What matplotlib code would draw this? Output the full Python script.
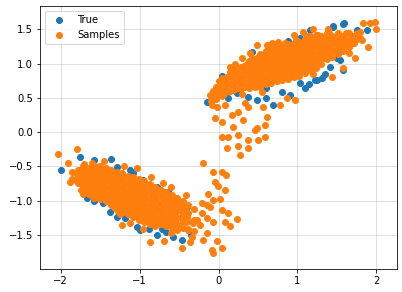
import matplotlib
matplotlib.use("Agg")
import matplotlib.pyplot as plt

# "True" points as (x, y)
true_lower = [
    (-2.0, -0.55), (-1.75, -0.36), (-1.58, -0.41), (-1.36, -0.39), (-1.28, -0.51),
    (-1.08, -0.6), (-0.96, -0.7), (-0.78, -0.8), (-0.64, -0.87), (-0.4, -1.09),
    (-0.45, -1.24), (-1.66, -0.96), (-1.46, -1.03), (-1.37, -1.17), (-1.18, -1.25),
    (-1.03, -1.38), (-0.99, -1.43), (-0.78, -1.5), (-0.58, -1.53), (-0.46, -1.57),
    (-0.35, -1.5), (-0.88, -1.42), (-0.66, -1.46), (-1.55, -0.6), (-1.8, -0.7),
    (-1.7, -0.55), (-1.5, -0.85), (-1.3, -0.9), (-1.1, -1.0), (-0.9, -1.1),
    (-0.7, -1.2), (-0.55, -1.3), (-1.2, -0.75), (-1.0, -0.85), (-0.8, -0.95),
    (-0.6, -1.05), (-1.4, -0.7), (-1.25, -1.05), (-1.05, -1.2), (-0.85, -1.28),
    (-1.58, -1.0), (-1.28, -1.24), (-0.72, -1.42), (-1.12, -0.55),
]
true_upper = [
    (-0.15, 0.44), (0.04, 0.82), (0.17, 0.7), (0.27, 0.79), (0.42, 1.17),
    (0.88, 1.33), (1.03, 1.38), (1.16, 1.49), (1.45, 1.55), (1.59, 1.59),
    (1.75, 1.49), (1.88, 1.49), (1.5, 1.08), (1.41, 0.95), (1.25, 0.76),
    (1.1, 0.64), (0.91, 0.54), (0.69, 0.39), (0.49, 0.47), (0.37, 0.51),
    (0.23, 0.57), (1.58, 1.57), (1.45, 1.53), (1.69, 1.31), (1.54, 1.05),
    (1.58, 0.9), (1.31, 0.79), (1.22, 0.76), (1.03, 0.71), (0.87, 1.3),
    (0.5, 0.8), (0.7, 0.95), (0.9, 1.05), (1.1, 1.15), (1.3, 1.25),
    (1.5, 1.3), (0.3, 0.7), (0.6, 0.65), (0.8, 0.8), (1.0, 0.9),
    (1.2, 1.0), (1.4, 1.15), (1.7, 1.4), (0.65, 1.15), (0.1, 0.6),
    (0.6, 0.5), (0.8, 0.58), (1.15, 0.7), (1.35, 0.85), (-0.05, 0.6),
    (0.08, 0.75), (0.12, 0.5),
]

# "Samples" points as (x, y)
samples_lower = [
    (-1.85, -0.58), (-1.85, -0.68),
    (-1.78, -0.55), (-1.78, -0.65), (-1.78, -0.75),
    (-1.71, -0.5), (-1.71, -0.6), (-1.71, -0.7), (-1.71, -0.8), (-1.71, -0.9),
    (-1.64, -0.52), (-1.64, -0.62), (-1.64, -0.72), (-1.64, -0.82), (-1.64, -0.9),
    (-1.57, -0.48), (-1.57, -0.58), (-1.57, -0.68), (-1.57, -0.78), (-1.57, -0.88), (-1.57, -0.96),
    (-1.5, -0.5), (-1.5, -0.6), (-1.5, -0.7), (-1.5, -0.8), (-1.5, -0.9), (-1.5, -0.98),
    (-1.43, -0.52), (-1.43, -0.62), (-1.43, -0.72), (-1.43, -0.82), (-1.43, -0.92), (-1.43, -1.0),
    (-1.36, -0.56), (-1.36, -0.66), (-1.36, -0.76), (-1.36, -0.86), (-1.36, -0.96), (-1.36, -1.06),
    (-1.29, -0.58), (-1.29, -0.68), (-1.29, -0.78), (-1.29, -0.88), (-1.29, -0.98), (-1.29, -1.08), (-1.29, -1.14),
    (-1.22, -0.6), (-1.22, -0.7), (-1.22, -0.8), (-1.22, -0.9), (-1.22, -1.0), (-1.22, -1.1), (-1.22, -1.17),
    (-1.15, -0.64), (-1.15, -0.74), (-1.15, -0.84), (-1.15, -0.94), (-1.15, -1.04), (-1.15, -1.14), (-1.15, -1.2),
    (-1.08, -0.66), (-1.08, -0.76), (-1.08, -0.86), (-1.08, -0.96), (-1.08, -1.06), (-1.08, -1.16), (-1.08, -1.24),
    (-1.01, -0.68), (-1.01, -0.78), (-1.01, -0.88), (-1.01, -0.98), (-1.01, -1.08), (-1.01, -1.18), (-1.01, -1.28),
    (-0.94, -0.72), (-0.94, -0.82), (-0.94, -0.92), (-0.94, -1.02), (-0.94, -1.12), (-0.94, -1.22), (-0.94, -1.32),
    (-0.87, -0.76), (-0.87, -0.86), (-0.87, -0.96), (-0.87, -1.06), (-0.87, -1.16), (-0.87, -1.26), (-0.87, -1.35),
    (-0.8, -0.8), (-0.8, -0.9), (-0.8, -1.0), (-0.8, -1.1), (-0.8, -1.2), (-0.8, -1.3), (-0.8, -1.37),
    (-0.73, -0.84), (-0.73, -0.94), (-0.73, -1.04), (-0.73, -1.14), (-0.73, -1.24), (-0.73, -1.34),
    (-0.66, -0.88), (-0.66, -0.98), (-0.66, -1.08), (-0.66, -1.18), (-0.66, -1.28), (-0.66, -1.37),
    (-0.59, -0.92), (-0.59, -1.02), (-0.59, -1.12), (-0.59, -1.22), (-0.59, -1.32), (-0.59, -1.4),
    (-0.52, -0.96), (-0.52, -1.06), (-0.52, -1.16), (-0.52, -1.26), (-0.52, -1.36), (-0.52, -1.43),
    (-0.45, -1.0), (-0.45, -1.1), (-0.45, -1.2), (-0.45, -1.3), (-0.45, -1.4),
    (-0.38, -1.06), (-0.38, -1.18), (-0.38, -1.3), (-0.38, -1.42),
    (-0.31, -1.12), (-0.31, -1.28), (-0.31, -1.45),
]
samples_lower_mid = [
    (-1.81, -0.6), (-1.81, -0.7),
    (-1.74, -0.55), (-1.74, -0.65), (-1.74, -0.75), (-1.74, -0.85),
    (-1.67, -0.55), (-1.67, -0.65), (-1.67, -0.75), (-1.67, -0.85),
    (-1.6, -0.53), (-1.6, -0.63), (-1.6, -0.73), (-1.6, -0.83), (-1.6, -0.93),
    (-1.53, -0.55), (-1.53, -0.65), (-1.53, -0.75), (-1.53, -0.85), (-1.53, -0.95),
    (-1.46, -0.55), (-1.46, -0.65), (-1.46, -0.75), (-1.46, -0.85), (-1.46, -0.95),
    (-1.39, -0.6), (-1.39, -0.7), (-1.39, -0.8), (-1.39, -0.9), (-1.39, -1.0),
    (-1.32, -0.62), (-1.32, -0.72), (-1.32, -0.82), (-1.32, -0.92), (-1.32, -1.02), (-1.32, -1.1),
    (-1.25, -0.64), (-1.25, -0.74), (-1.25, -0.84), (-1.25, -0.94), (-1.25, -1.04), (-1.25, -1.13),
    (-1.18, -0.66), (-1.18, -0.76), (-1.18, -0.86), (-1.18, -0.96), (-1.18, -1.06), (-1.18, -1.16),
    (-1.11, -0.7), (-1.11, -0.8), (-1.11, -0.9), (-1.11, -1.0), (-1.11, -1.1), (-1.11, -1.2),
    (-1.04, -0.72), (-1.04, -0.82), (-1.04, -0.92), (-1.04, -1.02), (-1.04, -1.12), (-1.04, -1.22),
    (-0.97, -0.74), (-0.97, -0.84), (-0.97, -0.94), (-0.97, -1.04), (-0.97, -1.14), (-0.97, -1.24),
    (-0.9, -0.78), (-0.9, -0.88), (-0.9, -0.98), (-0.9, -1.08), (-0.9, -1.18), (-0.9, -1.28),
    (-0.83, -0.82), (-0.83, -0.92), (-0.83, -1.02), (-0.83, -1.12), (-0.83, -1.22), (-0.83, -1.32),
    (-0.76, -0.84), (-0.76, -0.94), (-0.76, -1.04), (-0.76, -1.14), (-0.76, -1.24), (-0.76, -1.33),
    (-0.69, -0.88), (-0.69, -0.98), (-0.69, -1.08), (-0.69, -1.18), (-0.69, -1.28),
    (-0.62, -0.92), (-0.62, -1.02), (-0.62, -1.12), (-0.62, -1.22), (-0.62, -1.32),
    (-0.55, -0.96), (-0.55, -1.06), (-0.55, -1.16), (-0.55, -1.26), (-0.55, -1.36),
    (-0.48, -1.04), (-0.48, -1.14), (-0.48, -1.24), (-0.48, -1.34),
    (-0.41, -1.1), (-0.41, -1.2), (-0.41, -1.32),
]
samples_upper = [
    (-0.1, 0.45), (-0.1, 0.53),
    (-0.03, 0.48), (-0.03, 0.58), (-0.03, 0.66),
    (0.04, 0.52), (0.04, 0.62), (0.04, 0.72), (0.04, 0.79),
    (0.11, 0.6), (0.11, 0.7), (0.11, 0.8),
    (0.18, 0.62), (0.18, 0.72), (0.18, 0.82), (0.18, 0.9),
    (0.25, 0.64), (0.25, 0.74), (0.25, 0.84), (0.25, 0.94),
    (0.32, 0.66), (0.32, 0.76), (0.32, 0.86), (0.32, 0.96),
    (0.39, 0.64), (0.39, 0.74), (0.39, 0.84), (0.39, 0.94), (0.39, 1.04),
    (0.46, 0.66), (0.46, 0.76), (0.46, 0.86), (0.46, 0.96), (0.46, 1.06),
    (0.53, 0.66), (0.53, 0.76), (0.53, 0.86), (0.53, 0.96), (0.53, 1.06), (0.53, 1.14),
    (0.6, 0.7), (0.6, 0.8), (0.6, 0.9), (0.6, 1.0), (0.6, 1.1), (0.6, 1.18),
    (0.67, 0.72), (0.67, 0.82), (0.67, 0.92), (0.67, 1.02), (0.67, 1.12), (0.67, 1.22),
    (0.74, 0.74), (0.74, 0.84), (0.74, 0.94), (0.74, 1.04), (0.74, 1.14), (0.74, 1.24),
    (0.81, 0.76), (0.81, 0.86), (0.81, 0.96), (0.81, 1.06), (0.81, 1.16), (0.81, 1.26),
    (0.88, 0.78), (0.88, 0.88), (0.88, 0.98), (0.88, 1.08), (0.88, 1.18), (0.88, 1.28),
    (0.95, 0.8), (0.95, 0.9), (0.95, 1.0), (0.95, 1.1), (0.95, 1.2), (0.95, 1.3),
    (1.02, 0.82), (1.02, 0.92), (1.02, 1.02), (1.02, 1.12), (1.02, 1.22), (1.02, 1.32),
    (1.09, 0.86), (1.09, 0.96), (1.09, 1.06), (1.09, 1.16), (1.09, 1.26), (1.09, 1.36),
    (1.16, 0.9), (1.16, 1.0), (1.16, 1.1), (1.16, 1.2), (1.16, 1.3), (1.16, 1.4),
    (1.23, 0.94), (1.23, 1.04), (1.23, 1.14), (1.23, 1.24), (1.23, 1.34), (1.23, 1.42),
    (1.3, 1.0), (1.3, 1.1), (1.3, 1.2), (1.3, 1.3), (1.3, 1.4),
    (1.37, 1.06), (1.37, 1.16), (1.37, 1.26), (1.37, 1.36), (1.37, 1.45),
    (1.44, 1.1), (1.44, 1.2), (1.44, 1.3), (1.44, 1.4),
    (1.51, 1.14), (1.51, 1.24), (1.51, 1.34), (1.51, 1.44),
    (1.58, 1.18), (1.58, 1.28), (1.58, 1.38),
    (1.65, 1.24), (1.65, 1.34), (1.65, 1.44),
    (1.72, 1.3), (1.72, 1.4),
    (1.79, 1.38), (1.79, 1.46),
]
samples_upper_mid = [
    (-0.065, 0.5), (-0.065, 0.6),
    (0.005, 0.55), (0.005, 0.65), (0.005, 0.75),
    (0.075, 0.55), (0.075, 0.65), (0.075, 0.75),
    (0.145, 0.6), (0.145, 0.7), (0.145, 0.8), (0.145, 0.88),
    (0.215, 0.63), (0.215, 0.73), (0.215, 0.83), (0.215, 0.9),
    (0.285, 0.65), (0.285, 0.75), (0.285, 0.85), (0.285, 0.95),
    (0.355, 0.7), (0.355, 0.8), (0.355, 0.9), (0.355, 1.0),
    (0.425, 0.7), (0.425, 0.8), (0.425, 0.9), (0.425, 1.0), (0.425, 1.08),
    (0.495, 0.71), (0.495, 0.81), (0.495, 0.91), (0.495, 1.01), (0.495, 1.1),
    (0.565, 0.72), (0.565, 0.82), (0.565, 0.92), (0.565, 1.02), (0.565, 1.12),
    (0.635, 0.75), (0.635, 0.85), (0.635, 0.95), (0.635, 1.05), (0.635, 1.15),
    (0.705, 0.78), (0.705, 0.88), (0.705, 0.98), (0.705, 1.08), (0.705, 1.18),
    (0.775, 0.8), (0.775, 0.9), (0.775, 1.0), (0.775, 1.1), (0.775, 1.2),
    (0.845, 0.82), (0.845, 0.92), (0.845, 1.02), (0.845, 1.12), (0.845, 1.22), (0.845, 1.3),
    (0.915, 0.84), (0.915, 0.94), (0.915, 1.04), (0.915, 1.14), (0.915, 1.24),
    (0.985, 0.86), (0.985, 0.96), (0.985, 1.06), (0.985, 1.16), (0.985, 1.26), (0.985, 1.35),
    (1.055, 0.9), (1.055, 1.0), (1.055, 1.1), (1.055, 1.2), (1.055, 1.3),
    (1.125, 0.92), (1.125, 1.02), (1.125, 1.12), (1.125, 1.22), (1.125, 1.32), (1.125, 1.4),
    (1.195, 0.96), (1.195, 1.06), (1.195, 1.16), (1.195, 1.26), (1.195, 1.36),
    (1.265, 1.02), (1.265, 1.12), (1.265, 1.22), (1.265, 1.32), (1.265, 1.42),
    (1.335, 1.08), (1.335, 1.18), (1.335, 1.28), (1.335, 1.38),
    (1.405, 1.14), (1.405, 1.24), (1.405, 1.34), (1.405, 1.44),
    (1.475, 1.18), (1.475, 1.28), (1.475, 1.38),
    (1.545, 1.2), (1.545, 1.3), (1.545, 1.4),
    (1.615, 1.25), (1.615, 1.35), (1.615, 1.45),
    (1.685, 1.3), (1.685, 1.4),
    (1.755, 1.36), (1.755, 1.45),
]
samples_tail = [
    (-0.2, -0.45), (-0.07, -0.58), (0.04, -0.58), (0.1, -0.63), (-0.04, -0.73),
    (-0.01, -0.79), (-0.13, -0.9), (-0.07, -0.99), (0.02, -0.98), (-0.21, -1.03),
    (-0.15, -1.06), (0.04, -1.14), (0.12, -1.18), (0.23, -1.27), (-0.15, -1.25),
    (-0.07, -1.31), (0.15, -1.37), (-0.23, -1.36), (-0.15, -1.47), (-0.02, -1.59),
    (-0.08, -1.72), (-0.07, -1.77), (0.04, -1.69), (-0.2, -1.57), (-0.34, -1.53),
    (-0.32, -1.33), (-0.4, -1.24), (0.08, -0.85), (-0.11, -1.09), (-0.27, -1.28),
    (-0.39, -1.43), (-0.36, -1.6), (0.08, -1.31), (-0.21, -1.18),
    (-0.11, 0.54), (0.02, 0.58), (-0.02, 0.36), (0.08, 0.39), (-0.04, 0.2),
    (0.04, 0.15), (0.17, 0.25), (0.25, 0.29), (0.31, 0.17), (0.18, 0.07),
    (0.37, 0.36), (0.56, 0.36), (0.61, 0.22), (0.59, 0.1), (0.46, 0.03),
    (0.04, -0.07), (0.12, -0.07), (0.25, -0.04), (0.37, -0.12), (0.5, -0.12),
    (0.59, -0.07), (0.11, -0.23), (0.25, -0.2), (0.27, -0.34), (0.37, -0.23),
    (0.49, 0.06), (0.34, 0.42), (-0.08, 0.39),
]
samples_outliers = [
    (-2.03, -0.32), (-1.79, -0.25), (-1.9, -0.45), (-1.7, -0.47), (-1.6, -0.45),
    (-1.03, -0.53), (-0.7, -0.74), (-0.41, -0.92), (-1.22, -1.36), (-0.87, -1.6),
    (-0.69, -1.59), (-0.46, -1.69), (-1.88, -0.73), (-1.45, -0.42), (-1.2, -0.5),
    (-0.85, -0.65), (-0.6, -0.8), (-1.12, -1.33), (-1.25, -1.2), (-0.95, -1.42),
    (-0.6, -1.48),
    (0.21, 1.0), (0.4, 1.15), (0.49, 1.27), (0.61, 1.27), (0.68, 1.3),
    (0.34, 0.93), (0.3, 1.08), (1.83, 1.59), (1.92, 1.59), (1.98, 1.6),
    (2.0, 1.51), (1.82, 1.34), (1.89, 1.24), (1.73, 1.08), (1.44, 0.8),
    (1.07, 1.46), (1.39, 1.51), (0.97, 0.47), (0.87, 0.5), (1.58, 0.93),
    (0.78, 0.39), (0.15, 0.95), (0.75, 1.32), (0.95, 1.42), (1.2, 1.5),
    (0.3, 0.55), (0.55, 0.58), (1.2, 0.85), (1.65, 1.15),
]

true_pts = true_lower + true_upper
sample_pts = (samples_lower + samples_lower_mid + samples_tail
              + samples_upper + samples_upper_mid + samples_outliers)
true_x, true_y = zip(*true_pts)
samples_x, samples_y = zip(*sample_pts)

fig = plt.figure(figsize=(402 / 72, 292 / 72), dpi=72)
ax = fig.add_axes([40 / 402, 23 / 292, 357 / 402, 263 / 292])

ax.scatter(true_x, true_y, label="True")
ax.scatter(samples_x, samples_y, label="Samples")

ax.set_xlim(-2.26, 2.26)
ax.set_ylim(-2.0, 1.84)
ax.set_xticks([-2, -1, 0, 1, 2])
ax.set_yticks([-1.5, -1.0, -0.5, 0.0, 0.5, 1.0, 1.5])
ax.set_axisbelow(True)
ax.grid(alpha=0.5)
ax.legend(loc="upper left")

fig.savefig("out.png", dpi=72)
